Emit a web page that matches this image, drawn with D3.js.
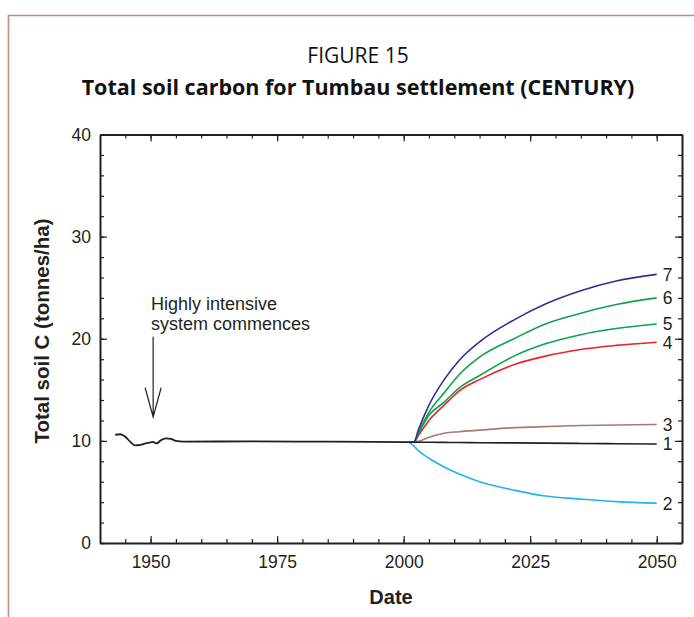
<!DOCTYPE html>
<html>
<head>
<meta charset="utf-8">
<script src="https://cdn.jsdelivr.net/npm/d3@7"></script>
<style>
  html, body { margin: 0; padding: 0; background: #fff; }
  svg { display: block; }
</style>
</head>
<body>
<svg id="chart" width="694" height="617"></svg>
<script>
// ---- data ----
const historyYears  = [1943, 1944, 1945, 1946, 1947, 1948, 1949, 1950, 1950.5, 1951.2, 1952, 1953, 1954, 1955, 1956.5, 1970, 1985, 2001];
const historyValues = [10.6, 10.65, 10.4, 9.9, 9.55, 9.6, 9.75, 9.85, 9.9, 9.75, 10.05, 10.25, 10.2, 10.0, 9.93, 9.95, 9.92, 9.87];

const futureYears = [2001, 2002, 2003, 2005, 2008, 2011, 2015, 2022, 2028, 2035, 2042, 2050];
const scenario1 = [9.87, 9.87, 9.86, 9.86, 9.85, 9.84, 9.82, 9.80, 9.78, 9.75, 9.72, 9.70];
const scenario2 = [9.87, 9.50, 9.00, 8.30, 7.45, 6.75, 6.00, 5.15, 4.60, 4.30, 4.05, 3.90];
const scenario3 = [9.87, 9.87, 9.95, 10.35, 10.75, 10.90, 11.05, 11.30, 11.40, 11.50, 11.55, 11.60];
const scenario4 = [9.87, 9.87, 10.60, 12.00, 13.50, 14.90, 16.00, 17.50, 18.30, 18.95, 19.35, 19.66];
const scenario5 = [9.87, 9.87, 10.80, 12.50, 13.80, 15.20, 16.40, 18.35, 19.50, 20.40, 21.00, 21.45];
const scenario6 = [9.87, 9.87, 10.90, 12.80, 14.70, 16.50, 18.20, 20.05, 21.45, 22.50, 23.35, 24.00];
const scenario7 = [9.87, 9.87, 11.20, 13.50, 16.00, 17.90, 19.70, 21.90, 23.40, 24.70, 25.65, 26.30];

const scenarioLabels = ["1", "2", "3", "4", "5", "6", "7"];
const scenarioColors = ["#231f20", "#1fb4ec", "#a9796a", "#ec2227", "#10a14d", "#10a14d", "#2e3192"];

const xMajorTicks = [1950, 1975, 2000, 2025, 2050];
const xMinorTicks = d3.range(1945, 2056, 5);
const yMajorTicks = [0, 10, 20, 30, 40];
const yMinorTicks = d3.range(0, 41, 2);

// ---- layout ----
const svg = d3.select("#chart");
const L = 100, R = 682, T = 134.5, B = 543;
const x = d3.scaleLinear().domain([1940, 2055]).range([L, R]);
const y = d3.scaleLinear().domain([0, 40]).range([B, T]);
const axisColor = "#231f20";
const sans = "'Liberation Sans', Arial, sans-serif";

// outer frame
svg.append("path")
  .attr("d", "M8.5,640 L8.5,15.5 L720,15.5")
  .attr("fill", "none").attr("stroke", "#b8957f").attr("stroke-width", 1.6);

// titles
svg.append("text").attr("x", 358).attr("y", 63)
  .attr("text-anchor", "middle")
  .style("font-family", "'Open Sans', 'Noto Sans', sans-serif")
  .style("font-size", "21px").attr("fill", "#111")
  .text("FIGURE 15");
svg.append("text").attr("x", 358).attr("y", 95)
  .attr("text-anchor", "middle")
  .style("font-family", "'Open Sans', 'Noto Sans', sans-serif")
  .style("font-weight", "bold")
  .style("font-size", "21.5px").attr("fill", "#111")
  .text("Total soil carbon for Tumbau settlement (CENTURY)");

// axes
function styleAxis(g) {
  g.selectAll("path").attr("stroke", axisColor).attr("stroke-width", 2);
  g.selectAll("line").attr("stroke", axisColor).attr("stroke-width", 1.2);
  g.selectAll("text").style("font-family", sans)
    .style("font-size", "17.5px").attr("fill", "#231f20");
}
// bottom
svg.append("g").attr("transform", `translate(0,${B})`)
  .call(d3.axisBottom(x).tickValues(xMinorTicks).tickSize(-4).tickSizeOuter(0).tickFormat(""))
  .call(styleAxis);
svg.append("g").attr("transform", `translate(0,${B})`)
  .call(d3.axisBottom(x).tickValues(xMajorTicks).tickSize(-7).tickSizeOuter(0).tickPadding(13).tickFormat(d3.format("d")))
  .call(styleAxis).call(g => g.select(".domain").remove());
// top
svg.append("g").attr("transform", `translate(0,${T})`)
  .call(d3.axisTop(x).tickValues(xMinorTicks).tickSize(-4).tickSizeOuter(0).tickFormat(""))
  .call(styleAxis);
svg.append("g").attr("transform", `translate(0,${T})`)
  .call(d3.axisTop(x).tickValues(xMajorTicks).tickSize(-7).tickSizeOuter(0).tickFormat(""))
  .call(styleAxis).call(g => g.select(".domain").remove());
// left
svg.append("g").attr("transform", `translate(${L},0)`)
  .call(d3.axisLeft(y).tickValues(yMinorTicks).tickSize(-4).tickSizeOuter(0).tickFormat(""))
  .call(styleAxis);
svg.append("g").attr("transform", `translate(${L},0)`)
  .call(d3.axisLeft(y).tickValues(yMajorTicks).tickSize(-7).tickSizeOuter(0).tickPadding(9).tickFormat(d3.format("d")))
  .call(styleAxis).call(g => g.select(".domain").remove());
// right
svg.append("g").attr("transform", `translate(${R},0)`)
  .call(d3.axisRight(y).tickValues(yMinorTicks).tickSize(-4).tickSizeOuter(0).tickFormat(""))
  .call(styleAxis);
svg.append("g").attr("transform", `translate(${R},0)`)
  .call(d3.axisRight(y).tickValues(yMajorTicks).tickSize(-7).tickSizeOuter(0).tickFormat(""))
  .call(styleAxis).call(g => g.select(".domain").remove());

// axis titles
svg.append("text").attr("x", 391).attr("y", 604).attr("text-anchor", "middle")
  .style("font-family", sans).style("font-weight", "bold")
  .style("font-size", "20px").attr("fill", "#231f20").text("Date");
svg.append("text").attr("transform", `translate(49,331) rotate(-90)`)
  .attr("text-anchor", "middle")
  .style("font-family", sans).style("font-weight", "bold")
  .style("font-size", "20.5px").attr("fill", "#231f20").text("Total soil C (tonnes/ha)");

// lines
const line = d3.line().x(d => x(d[0])).y(d => y(d[1])).curve(d3.curveMonotoneX);
const scenarios = [scenario1, scenario2, scenario3, scenario4, scenario5, scenario6, scenario7];
const plot = svg.append("g");
[2, 1, 3, 4, 5, 6, 0].forEach(i => {
  const pts = futureYears.map((yr, j) => [yr, scenarios[i][j]]);
  plot.append("path").datum(pts).attr("d", line)
    .attr("fill", "none").attr("stroke", scenarioColors[i]).attr("stroke-width", 1.6);
});
plot.append("path").datum(historyYears.map((yr, j) => [yr, historyValues[j]])).attr("d", line)
  .attr("fill", "none").attr("stroke", "#231f20").attr("stroke-width", 1.8);

// end labels
scenarios.forEach((s, i) => {
  svg.append("text").attr("x", x(2050) + 6).attr("y", y(s[s.length - 1]) + 6.5)
    .style("font-family", sans).style("font-size", "17.5px")
    .attr("fill", "#231f20").text(scenarioLabels[i]);
});

// annotation
const ann = svg.append("g").style("font-family", sans)
  .style("font-size", "18px").attr("fill", "#231f20");
ann.append("text").attr("x", 151).attr("y", 310).text("Highly intensive");
ann.append("text").attr("x", 151).attr("y", 330).text("system commences");
const ax = x(1950.5);
svg.append("path")
  .attr("d", `M${ax},${y(20.2)} L${ax},${y(12.35)} M${ax - 8},${y(15.2)} L${ax},${y(12.35)} L${ax + 8},${y(15.2)}`)
  .attr("fill", "none").attr("stroke", "#231f20").attr("stroke-width", 1.2);
</script>
</body>
</html>
